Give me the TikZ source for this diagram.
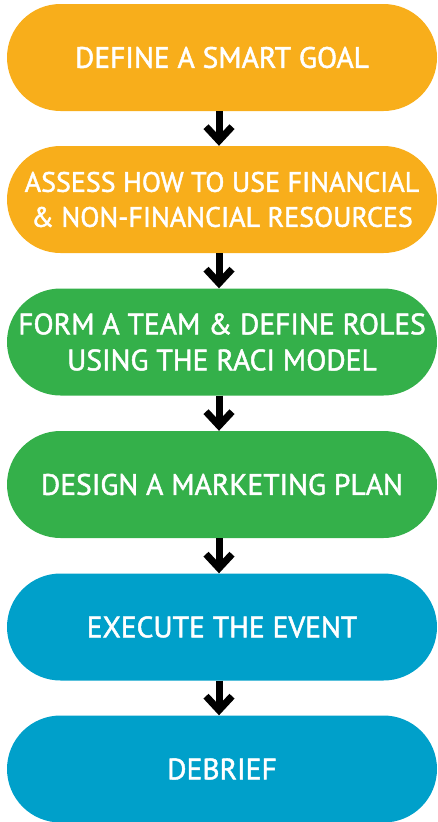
\documentclass[tikz,border=0pt]{standalone}
\usepackage{fontspec}
\setmainfont{PT Sans}
\newfontfamily\pillfont{PT Sans}[FakeBold=1.6]
\usetikzlibrary{arrows.meta}
\definecolor{stepOrange}{HTML}{F8AE1B}
\definecolor{stepGreen}{HTML}{34B04A}
\definecolor{stepBlue}{HTML}{00A0CA}
\begin{document}
\begin{tikzpicture}[x=1pt,y=-1pt,
  pill/.style={rounded corners=53.5pt, minimum width=430pt, minimum height=107pt,
    inner sep=0pt, align=center, text=white,
    font=\pillfont\fontsize{29.5}{36}\selectfont},
  snug/.style={font=\pillfont\fontsize{28}{35}\selectfont},
  flow/.style={line width=7pt, -{Straight Barb[length=14pt,width=26pt]}}]
\useasboundingbox (0,0) rectangle (437,822);
\node[pill, fill=stepOrange] (s1) at (222,57.5) {DEFINE A SMART GOAL};
\node[pill, snug, fill=stepOrange] (s2) at (222,199.5) {ASSESS HOW TO USE FINANCIAL\\\& NON-FINANCIAL RESOURCES};
\node[pill, fill=stepGreen] (s3) at (222,342) {FORM A TEAM \& DEFINE ROLES\\USING THE RACI MODEL};
\node[pill, fill=stepGreen] (s4) at (222,484.5) {DESIGN A MARKETING PLAN};
\node[pill, fill=stepBlue] (s5) at (222,627) {EXECUTE THE EVENT};
\node[pill, fill=stepBlue] (s6) at (222,769) {DEBRIEF};
\foreach \a/\b in {s1/s2,s2/s3,s3/s4,s4/s5,s5/s6}
  \draw[flow] ([xshift=-3pt]\a.south) -- ([xshift=-3pt]\b.north);
\end{tikzpicture}
\end{document}
